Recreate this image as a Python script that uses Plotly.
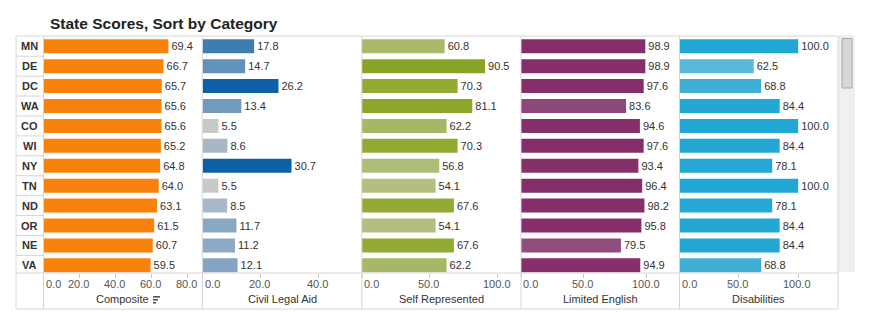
import plotly.graph_objects as go

# ---------------- data ----------------
states = ["MN", "DE", "DC", "WA", "CO", "WI", "NY", "TN", "ND", "OR", "NE", "VA"]
composite = [69.4, 66.7, 65.7, 65.6, 65.6, 65.2, 64.8, 64.0, 63.1, 61.5, 60.7, 59.5]
civil_legal_aid = [17.8, 14.7, 26.2, 13.4, 5.5, 8.6, 30.7, 5.5, 8.5, 11.7, 11.2, 12.1]
self_represented = [60.8, 90.5, 70.3, 81.1, 62.2, 70.3, 56.8, 54.1, 67.6, 54.1, 67.6, 62.2]
limited_english = [98.9, 98.9, 97.6, 83.6, 94.6, 97.6, 93.4, 96.4, 98.2, 95.8, 79.5, 94.9]
disabilities = [100.0, 62.5, 68.8, 84.4, 100.0, 84.4, 78.1, 100.0, 78.1, 84.4, 84.4, 68.8]

panel_titles = ["Composite", "Civil Legal Aid", "Self Represented", "Limited English", "Disabilities"]
composite_ticks = [0, 20, 40, 60, 80]
civil_ticks = [0, 20, 40]
self_ticks = [0, 50, 100]
limited_ticks = [0, 50, 100]
disab_ticks = [0, 50, 100]

# ---------------- layout helpers ----------------
W, H = 870, 334
def X(px):
    return px / W
def Y(py):
    return 1 - py / H

FONT = "Liberation Sans, Arial, sans-serif"
LINE = "#D6D6D6"

series = [composite, civil_legal_aid, self_represented, limited_english, disabilities]
ticks = [composite_ticks, civil_ticks, self_ticks, limited_ticks, disab_ticks]
# panel pixel edges and x-range maxima
edges = [(43.5, 202.0), (202.5, 361.7), (362.0, 520.7), (521.0, 679.5), (679.5, 838.0)]
xmax = [88.06, 54.9, 116.7, 126.1, 133.5]

colorscales = [
    None,
    dict(cmin=5.5, cmax=30.7, cs=[[0, "#C9C9C9"], [0.119, "#A8B8C6"], [0.246, "#88A8C4"],
                                   [0.337, "#6A97BE"], [0.488, "#3D7EB2"], [0.821, "#0C60A3"], [1, "#0C60A3"]]),
    dict(cmin=54.1, cmax=90.5, cs=[[0, "#B2BF7E"], [0.074, "#AEBD76"], [0.2225, "#A6B866"],
                                    [0.371, "#93AA34"], [1, "#89A424"]]),
    dict(cmin=79.5, cmax=98.9, cs=[[0, "#904E7D"], [0.211, "#8D4779"], [0.716, "#86306A"], [1, "#852E69"]]),
    dict(cmin=62.5, cmax=100, cs=[[0, "#5CB8D9"], [0.168, "#3FAFD6"], [0.416, "#24A8D4"], [1, "#21A7D3"]]),
]

fig = go.Figure()
ybot, ytop = 273.0, 36.3
yrange = [11.385, -0.5]

annotations = []
shapes = []

for i, (vals, tk) in enumerate(zip(series, ticks)):
    n = "" if i == 0 else str(i + 1)
    cs = colorscales[i]
    if cs is None:
        marker = dict(color="#F8820C")
    else:
        marker = dict(color=vals, colorscale=cs["cs"], cmin=cs["cmin"], cmax=cs["cmax"])
    fig.add_trace(go.Bar(
        x=vals, y=states, orientation="h", width=0.7,
        marker=dict(line=dict(width=0), **marker),
        text=[f"{v:.1f}" for v in vals], textposition="outside",
        textfont=dict(size=11, color="#333333", family=FONT),
        constraintext="none", cliponaxis=False,
        xaxis="x" + n, yaxis="y" + n, showlegend=False, hoverinfo="x+y",
    ))
    l, r = edges[i]
    fig.layout["xaxis" + n] = dict(
        domain=[X(l), X(r)], range=[0, xmax[i]], anchor="y" + n,
        showgrid=False, zeroline=False, showline=False,
        tickvals=tk, ticks="outside", ticklen=4, tickcolor="#C8C8C8",
        showticklabels=False, fixedrange=True,
    )
    fig.layout["yaxis" + n] = dict(
        domain=[Y(ybot), Y(ytop)], range=yrange, anchor="x" + n,
        type="category", categoryorder="array", categoryarray=states,
        showgrid=False, zeroline=False, showline=False, showticklabels=False,
        ticks="", fixedrange=True,
    )
    # tick labels
    for t in tk:
        annotations.append(dict(
            x=t, xref="x" + n, y=Y(284), yref="paper", text=f"{t:.1f}",
            showarrow=False, xanchor="left" if t == 0 else "center", yanchor="middle",
            xshift=0 if t == 0 else -1,
            font=dict(size=11, color="#555555", family=FONT),
        ))
    # axis title
    annotations.append(dict(
        x=X((l + r) / 2), xref="paper", y=Y(299), yref="paper", text=panel_titles[i],
        showarrow=False, xanchor="center", yanchor="middle",
        font=dict(size=11, color="#333333", family=FONT),
    ))

# row labels
for s in states:
    annotations.append(dict(
        x=X(29.8), xref="paper", y=s, yref="y", text=f"<b>{s}</b>",
        showarrow=False, xanchor="center", yanchor="middle",
        font=dict(size=11, color="#333333", family=FONT),
    ))

# title
annotations.append(dict(
    x=X(48), xref="paper", y=Y(23), yref="paper",
    text="<b>State Scores, Sort by Category</b>", showarrow=False,
    xanchor="left", yanchor="middle", font=dict(size=15.5, color="#222222", family=FONT),
))

# row separators in label column
for k in range(len(states) - 1):
    shapes.append(dict(type="line", xref="paper", yref="y", x0=X(16), x1=X(43),
                       y0=k + 0.5, y1=k + 0.5, line=dict(color=LINE, width=1)))

# frame lines
for py in (36, 273, 309):
    shapes.append(dict(type="line", xref="paper", yref="paper", x0=X(16), x1=X(838),
                       y0=Y(py), y1=Y(py), line=dict(color=LINE, width=1)))
for px in (16, 43.5, 202.3, 361.8, 521, 679.5, 838):
    shapes.append(dict(type="line", xref="paper", yref="paper", x0=X(px), x1=X(px),
                       y0=Y(36), y1=Y(309), line=dict(color=LINE, width=1)))

# sort icon next to "Composite"
for j, w in enumerate((7, 5, 3)):
    shapes.append(dict(type="rect", xref="paper", yref="paper",
                       x0=X(153), x1=X(153 + w), y0=Y(296 + 3 * j), y1=Y(297.6 + 3 * j),
                       fillcolor="#555555", line=dict(width=0)))

# scrollbar
shapes.append(dict(type="rect", xref="paper", yref="paper", x0=X(839), x1=X(854),
                   y0=Y(271), y1=Y(36), fillcolor="#F0F0F0", line=dict(color="#E6E6E6", width=1)))
shapes.append(dict(type="rect", xref="paper", yref="paper", x0=X(842), x1=X(852),
                   y0=Y(88), y1=Y(38.5), fillcolor="#D7D7D7", line=dict(color="#AAAAAA", width=1)))

fig.update_layout(
    width=W, height=H, margin=dict(l=0, r=0, t=0, b=0),
    paper_bgcolor="white", plot_bgcolor="white",
    font=dict(family=FONT, size=11, color="#333333"),
    annotations=annotations, shapes=shapes, bargap=0.3,
)

fig.write_html("out.html", config={"displayModeBar": False})
